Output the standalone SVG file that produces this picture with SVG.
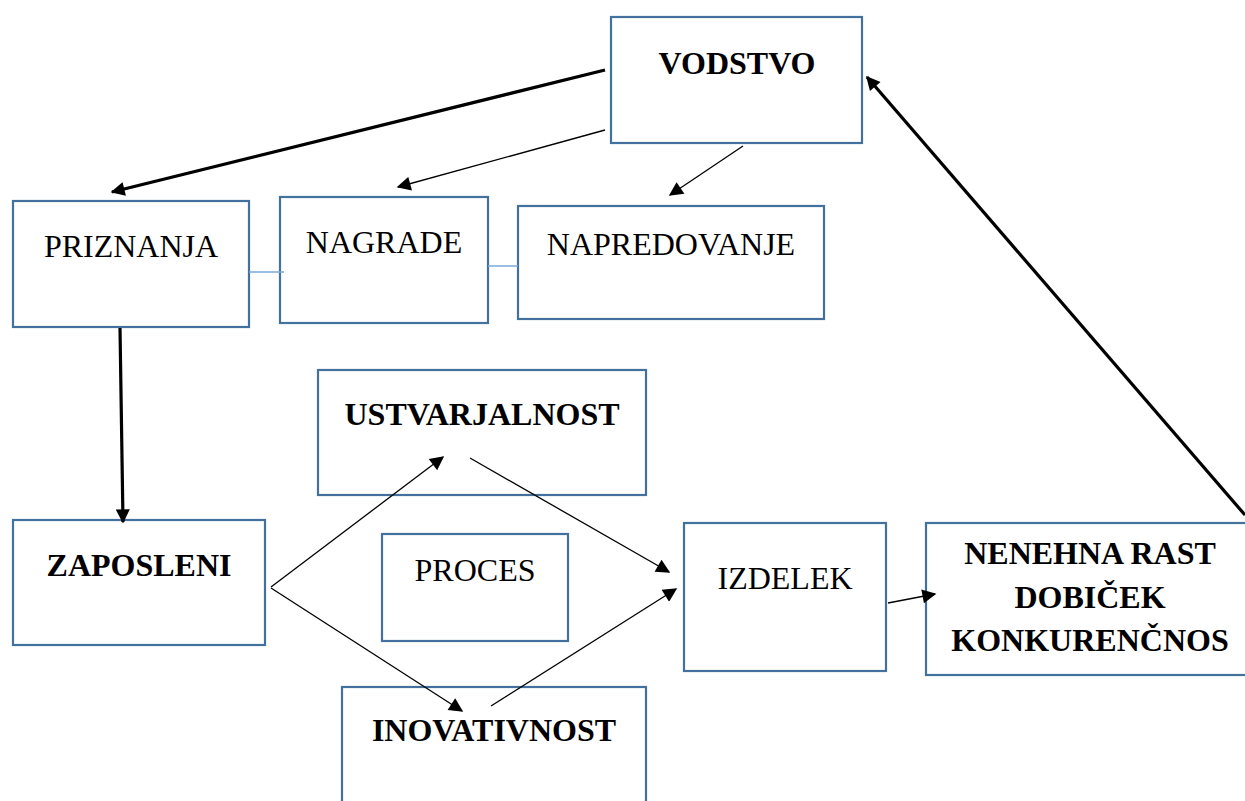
<svg xmlns="http://www.w3.org/2000/svg" width="1245" height="801" viewBox="0 0 1245 801">
<style>
.box{fill:#fff;stroke:#41719c;stroke-width:2.2}
.t{font-family:"Liberation Serif",serif;font-size:32px;fill:#000;text-anchor:middle}
.b{font-weight:bold}
.thin{stroke:#000;stroke-width:1.3;fill:none}
.thick{stroke:#000;stroke-width:3.2;fill:none}
.link{stroke:#7aaad8;stroke-width:1.5;fill:none}
</style>
<defs>
<marker id="ak" viewBox="0 0 10 10" refX="9" refY="5" markerWidth="16" markerHeight="14" markerUnits="userSpaceOnUse" orient="auto"><path d="M0,0L10,5L0,10Z" fill="#000"/></marker>
<marker id="as" viewBox="0 0 10 10" refX="9" refY="5" markerWidth="17" markerHeight="14" markerUnits="userSpaceOnUse" orient="auto"><path d="M0,0L10,5L0,10Z" fill="#000"/></marker>
</defs>
<rect width="1245" height="801" fill="#fff"/>
<g id="vodstvo"><rect class="box" x="611" y="17" width="251" height="126"/><text class="t b" x="737" y="74">VODSTVO</text></g>
<g id="priznanja"><rect class="box" x="13" y="201" width="236" height="126"/><text class="t" x="131" y="257">PRIZNANJA</text></g>
<g id="nagrade"><rect class="box" x="280" y="197" width="208" height="126"/><text class="t" x="384" y="253">NAGRADE</text></g>
<g id="napredovanje"><rect class="box" x="518" y="206" width="306" height="113"/><text class="t" x="671" y="255">NAPREDOVANJE</text></g>
<g id="ustvarjalnost"><rect class="box" x="318" y="370" width="328" height="125"/><text class="t b" x="482" y="425">USTVARJALNOST</text></g>
<g id="zaposleni"><rect class="box" x="13" y="520" width="252" height="125"/><text class="t b" x="139" y="576">ZAPOSLENI</text></g>
<g id="proces"><rect class="box" x="382" y="534" width="186" height="107"/><text class="t" x="475" y="581">PROCES</text></g>
<g id="izdelek"><rect class="box" x="684" y="523" width="202" height="148"/><text class="t" x="785" y="589">IZDELEK</text></g>
<g id="nenehna"><rect class="box" x="926" y="523" width="330" height="152"/><text class="t b" x="1090" y="564">NENEHNA RAST</text><text class="t b" x="1090" y="608">DOBIČEK</text><text class="t b" x="1090" y="651">KONKURENČNOS</text></g>
<g id="inovativnost"><rect class="box" x="342" y="687" width="304" height="130"/><text class="t b" x="494" y="741">INOVATIVNOST</text></g>
<g id="connectors">
<line class="link" x1="249" y1="272" x2="284" y2="272"/>
<line class="link" x1="488" y1="266" x2="518" y2="266"/>
<line class="thick" x1="605" y1="70" x2="112" y2="192" marker-end="url(#ak)"/>
<line class="thin" x1="605" y1="130" x2="398" y2="187" marker-end="url(#as)"/>
<line class="thin" x1="743" y1="146" x2="670" y2="195" marker-end="url(#as)"/>
<line class="thick" x1="120" y1="328" x2="123" y2="522" marker-end="url(#ak)"/>
<line class="thick" x1="1245" y1="515" x2="867" y2="77" marker-end="url(#ak)"/>
<line class="thin" x1="271" y1="587" x2="443" y2="457" marker-end="url(#as)"/>
<line class="thin" x1="470" y1="458" x2="669" y2="572" marker-end="url(#as)"/>
<line class="thin" x1="271" y1="588" x2="462" y2="711" marker-end="url(#as)"/>
<line class="thin" x1="491" y1="706" x2="676" y2="589" marker-end="url(#as)"/>
<line class="thin" x1="888" y1="603" x2="935" y2="594" marker-end="url(#as)"/>
</g>
</svg>
